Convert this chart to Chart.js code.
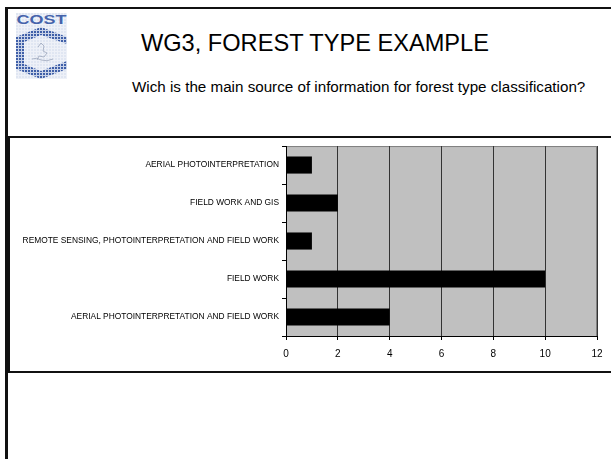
<!doctype html>
<html lang="en">

<head>
  <title>WG3, FOREST TYPE EXAMPLE</title>
  <meta charset="utf-8">
  <script src="https://cdn.jsdelivr.net/npm/chart.js@4.4.1/dist/chart.umd.min.js"></script>
  <style>
    body { margin: 0; width: 611px; height: 459px; overflow: hidden; background: #fff; font-family: "Liberation Sans", Arial, sans-serif; position: relative; }
    .frame { position: absolute; left: 5px; top: 7px; right: -10px; bottom: -10px; border-left: 3px solid #111; border-top: 2px solid #111; }
    .logo { position: absolute; left: 16px; top: 13px; width: 51px; height: 66px; }
    .title { position: absolute; left: 141px; top: 30px; font-size: 23.6px; color: #000; white-space: nowrap; }
    .subtitle { position: absolute; left: 132px; top: 78px; font-size: 15.2px; color: #000; white-space: nowrap; }
    .chartbox { position: absolute; left: 8px; top: 136px; width: 610px; height: 233px; border: 2px solid #111; }
    .chartbox canvas { position: absolute; left: 0; top: 0; }
  </style>
</head>

<body>
  <div class="frame"></div>

  <!--rough stand-in for the COST logo-->
  <svg class="logo" viewBox="0 0 51 66">
    <defs>
      <pattern id="dots" width="3" height="3" patternUnits="userSpaceOnUse">
        <rect width="3" height="3" fill="#c9d3e8"/>
        <rect width="2" height="2" fill="#3f5fa8"/>
      </pattern>
      <pattern id="pale" width="3" height="3" patternUnits="userSpaceOnUse">
        <rect width="3" height="3" fill="#eef1f8"/>
        <rect width="2" height="2" fill="#e0e6f2"/>
      </pattern>
    </defs>
    <rect width="51" height="66" fill="url(#pale)"/>
    <text x="25.5" y="11" text-anchor="middle" font-size="13" font-weight="bold" fill="#4563ab" textLength="50" lengthAdjust="spacingAndGlyphs" font-family="Liberation Sans">COST</text>
    <polygon points="0,24 25,14 51,24 51,31 25,22 8,29 8,41 0,41" fill="url(#dots)"/>
    <polygon points="0,41 8,41 8,51 25,58 51,48 51,56 25,66 0,56" fill="url(#dots)"/>
    <path d="M22 34 l3 -4 l3 3 l-1 5 l4 2 l-3 4 l-5 -1 l-2 4 M16 46 q5 -2 9 1 q6 2 12 -1" fill="none" stroke="#9ca6bb" stroke-width="0.8"/>
  </svg>

  <div class="title">WG3, FOREST TYPE EXAMPLE</div>
  <div class="subtitle">Wich is the main source of information for forest type classification?</div>

  <div class="chartbox">
    <canvas id="sourceChart" width="602" height="233" style="width:602px;height:233px"></canvas>
  </div>

  <script>
    var categories = [
      'AERIAL PHOTOINTERPRETATION',
      'FIELD WORK AND GIS',
      'REMOTE SENSING, PHOTOINTERPRETATION AND FIELD WORK',
      'FIELD WORK',
      'AERIAL PHOTOINTERPRETATION AND FIELD WORK'
    ];
    var answers = [1, 2, 1, 10, 4];
    var xTicks = [0, 2, 4, 6, 8, 10, 12];

    // grey plot background with a thin border
    var plotBackground = {
      id: 'plotBackground',
      beforeDraw: function (chart) {
        var a = chart.chartArea, ctx = chart.ctx;
        ctx.save();
        ctx.fillStyle = '#c0c0c0';
        ctx.fillRect(a.left, a.top, a.right - a.left, a.bottom - a.top);
        ctx.strokeStyle = '#808080';
        ctx.lineWidth = 1;
        ctx.strokeRect(a.left + 0.5, a.top + 0.5, a.right - a.left - 1, a.bottom - a.top);
        ctx.restore();
      }
    };

    Chart.defaults.font.family = '"Liberation Sans", Arial, sans-serif';
    Chart.defaults.color = '#000';

    var chart = new Chart(document.getElementById('sourceChart'), {
      type: 'bar',
      data: {
        labels: categories,
        datasets: [{
          data: answers,
          backgroundColor: '#000',
          borderWidth: 0,
          barPercentage: 0.45,
          categoryPercentage: 1
        }]
      },
      options: {
        indexAxis: 'y',
        responsive: false,
        animation: false,
        layout: { padding: { left: 0, top: 8, right: 15, bottom: 0 } },
        plugins: { legend: { display: false }, tooltip: { enabled: false } },
        scales: {
          y: {
            offset: true,
            grid: { drawOnChartArea: false, offset: true, tickLength: 4, color: '#000' },
            border: { color: '#000', width: 1 },
            ticks: { font: { size: 8.4 }, padding: 3 },
            afterFit: function (s) { s.width = 276; }
          },
          x: {
            min: 0,
            max: 12,
            afterBuildTicks: function (s) { s.ticks = xTicks.map(function (v) { return { value: v }; }); },
            grid: { color: '#333', tickColor: '#000', tickLength: 4 },
            border: { color: '#000', width: 1 },
            ticks: { font: { size: 10 }, padding: 8, maxRotation: 0 },
            afterFit: function (s) { s.height = 35; }
          }
        }
      },
      plugins: [plotBackground]
    });
  </script>

</body>

</html>
